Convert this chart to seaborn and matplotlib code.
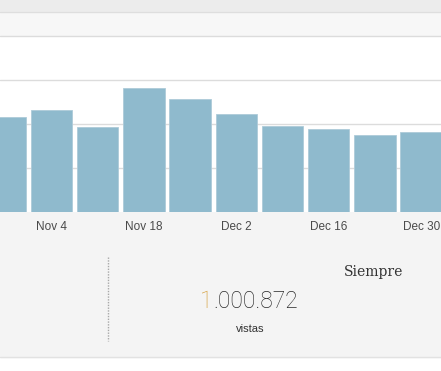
import matplotlib
matplotlib.use("Agg")
import matplotlib.pyplot as plt
import seaborn as sns
import pandas as pd
from matplotlib.patches import Rectangle
from matplotlib.lines import Line2D

# ---- data ----
weeks = ["Oct 28", "Nov 4", "Nov 11", "Nov 18", "Nov 25",
         "Dec 2", "Dec 9", "Dec 16", "Dec 23", "Dec 30"]
views = [10800, 11560, 9630, 14060, 12810, 11100, 9690, 9350, 8780, 9010]
tick_labels = ["Nov 4", "Nov 18", "Dec 2", "Dec 16", "Dec 30"]
tick_idx = [1, 3, 5, 7, 9]
grid_values = [5000, 10000, 15000]
total_label = "Siempre"
total_value_first = "1"
total_value_rest = ".000.872"
total_unit = "vistas"

W, H = 441, 371
sns.set_theme(style="white")
plt.rcParams['font.family'] = ['Liberation Sans', 'DejaVu Sans']

fig = plt.figure(figsize=(W / 100, H / 100), dpi=100)
fig.patch.set_facecolor("white")


def fx(x):
    return x / W


def fy(y):
    return 1 - y / H


def band(y0, y1, color):
    fig.patches.append(Rectangle((0, fy(y1)), 1, (y1 - y0) / H,
                                 transform=fig.transFigure, color=color,
                                 zorder=-10))


def hline(y, color, lw=1.0):
    fig.lines.append(Line2D([0, 1], [fy(y), fy(y)], transform=fig.transFigure,
                            color=color, lw=lw, zorder=5))


band(0, 11.5, "#ececec")
band(11.5, 35, "#f7f7f7")
band(212, 357, "#f4f4f4")
hline(11.5, "#dedede")
hline(35.5, "#dcdcdc")
hline(357, "#e2e2e2")

ax = fig.add_axes([0, fy(212), 1, 176.5 / H])
ax.set_facecolor("white")
for g in grid_values:
    ax.axhline(g, color="#dcdcdc", lw=1, zorder=0.5)
df = pd.DataFrame({"week": weeks, "views": views})
sns.barplot(data=df, x="week", y="views", order=weeks, color="#8fbacd",
            saturation=1, width=0.894, ax=ax, edgecolor="#aecbd9",
            linewidth=0.6)
for p in ax.patches:
    p.set_zorder(3)
    p.set_alpha(1)
ax.grid(False)
ax.set_xlim(-0.115, 9.43)
ax.set_ylim(0, 20000)
ax.set_yticks([])
ax.set_xticks(tick_idx)
ax.set_xticklabels(tick_labels, fontsize=8.5, color="#4a4a4a")
ax.tick_params(axis="x", length=0, pad=6.5)
ax.set_xlabel("")
ax.set_ylabel("")
for s in ax.spines.values():
    s.set_visible(False)

# summary section
fig.lines.append(Line2D([fx(107.5), fx(107.5)], [fy(257), fy(341)],
                        transform=fig.transFigure, color="#a8a8a8", lw=1,
                        ls=(0, (1, 1)), zorder=2))
fig.text(fx(374), fy(276), total_label, family=["DejaVu Serif"], fontsize=10,
         color="#333333", ha="center", va="baseline")
fig.text(fx(213), fy(308.5), total_value_first, family=["Roboto", "DejaVu Sans"],
         fontweight="light", fontsize=16.5, color="#d39a30", ha="right",
         va="baseline")
fig.text(fx(213), fy(308.5), total_value_rest, family=["Roboto", "DejaVu Sans"],
         fontweight="light", fontsize=16.5, color="#2a2a2a", ha="left",
         va="baseline")
fig.text(fx(250.5), fy(331.5), total_unit, fontsize=8, color="#333333",
         ha="center", va="baseline")

fig.savefig("out.png", dpi=100)
